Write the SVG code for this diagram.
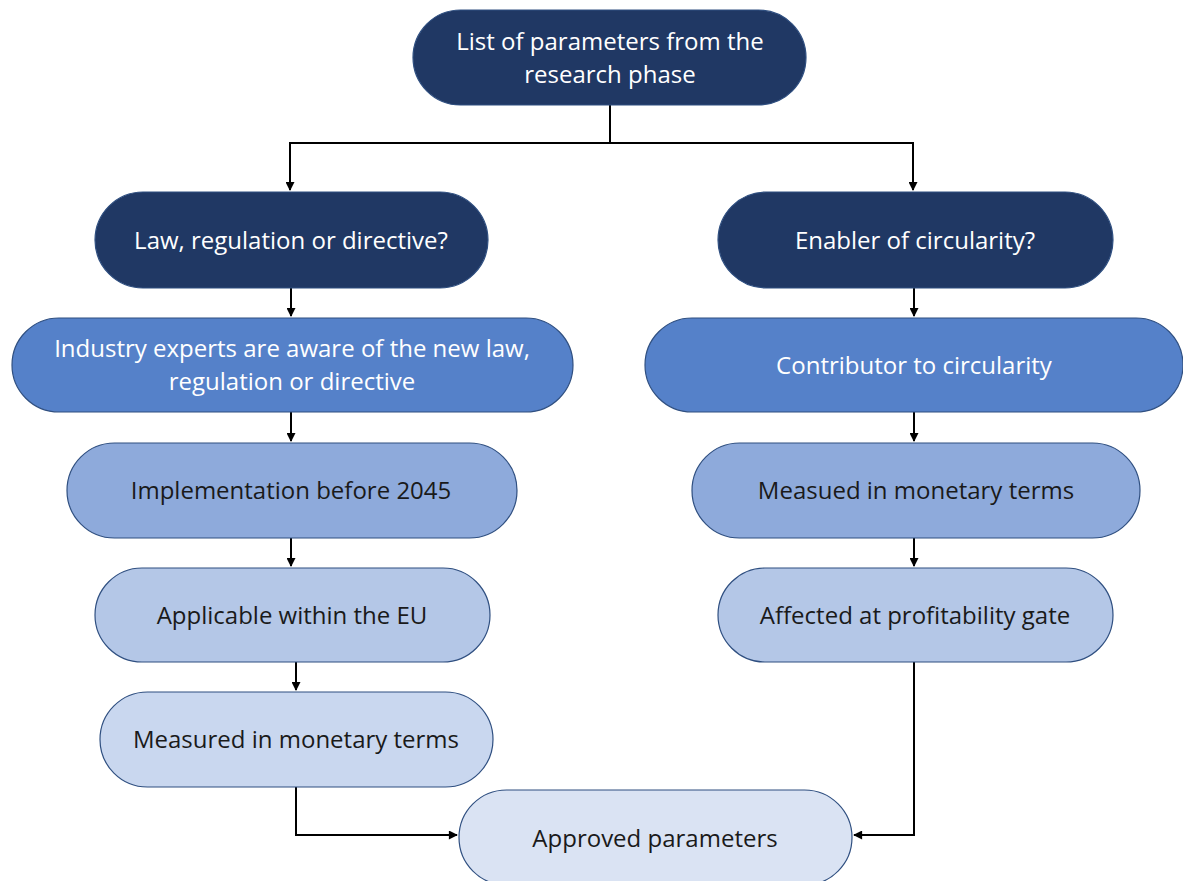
<svg xmlns="http://www.w3.org/2000/svg" width="1183" height="881" viewBox="0 0 1183 881">
<defs>
<marker id="ah" viewBox="0 0 10 10" refX="9" refY="5" markerWidth="10" markerHeight="9" orient="auto" markerUnits="userSpaceOnUse"><path d="M0,0 L10,5 L0,10 z" fill="#000"/></marker>
<style>
.n rect{stroke:#2f4f80;stroke-width:1.2}
.d rect{fill:#203864}
.m rect{fill:#5581c9}
.l4 rect{fill:#8eaadb}
.l5 rect{fill:#b4c7e7}
.l6 rect{fill:#c9d7ef}
.l7 rect{fill:#dae3f3}
text{font-family:"Open Sans","Noto Sans",sans-serif;font-size:24px;text-anchor:middle}
.w text{fill:#ffffff}
.k text{fill:#1a1a1a}
.c{fill:none;stroke:#000;stroke-width:2;marker-end:url(#ah)}
</style>
</defs>
<rect width="1183" height="881" fill="#fff"/>
<g id="connectors">
<path class="c" d="M610,105 V143 H290 V190"/>
<path class="c" d="M610,143 H913 V190"/>
<path class="c" d="M291,288 V316"/>
<path class="c" d="M914,288 V316"/>
<path class="c" d="M291,412 V441"/>
<path class="c" d="M914,412 V441"/>
<path class="c" d="M291,538 V566"/>
<path class="c" d="M914,538 V566"/>
<path class="c" d="M296,662 V690"/>
<path class="c" d="M296,787 V835 H457"/>
<path class="c" d="M914,662 V835 H854"/>
</g>
<g id="n1" class="n d w"><rect x="413" y="10" width="393" height="95" rx="47.5"/><text x="610" y="50">List of parameters from the</text><text x="610" y="83">research phase</text></g>
<g id="n2" class="n d w"><rect x="95" y="192" width="393" height="96" rx="48"/><text x="291" y="249">Law, regulation or directive?</text></g>
<g id="n3" class="n d w"><rect x="718" y="192" width="395" height="96" rx="48"/><text x="915" y="249">Enabler of circularity?</text></g>
<g id="n4" class="n m w"><rect x="12" y="318" width="561" height="94" rx="47"/><text x="292" y="357">Industry experts are aware of the new law,</text><text x="292" y="390">regulation or directive</text></g>
<g id="n5" class="n m w"><rect x="645" y="318" width="538" height="94" rx="47"/><text x="914" y="374">Contributor to circularity</text></g>
<g id="n6" class="n l4 k"><rect x="67" y="443" width="450" height="95" rx="47.5"/><text x="291" y="499">Implementation before 2045</text></g>
<g id="n7" class="n l4 k"><rect x="692" y="443" width="448" height="95" rx="47.5"/><text x="916" y="499">Measued in monetary terms</text></g>
<g id="n8" class="n l5 k"><rect x="95" y="568" width="395" height="94" rx="47"/><text x="292" y="624">Applicable within the EU</text></g>
<g id="n9" class="n l5 k"><rect x="718" y="568" width="395" height="94" rx="47"/><text x="915" y="624">Affected at profitability gate</text></g>
<g id="n10" class="n l6 k"><rect x="100" y="692" width="393" height="95" rx="47.5"/><text x="296" y="748">Measured in monetary terms</text></g>
<g id="n11" class="n l7 k"><rect x="459" y="790" width="393" height="95" rx="47.5"/><text x="655" y="847">Approved parameters</text></g>
</svg>
